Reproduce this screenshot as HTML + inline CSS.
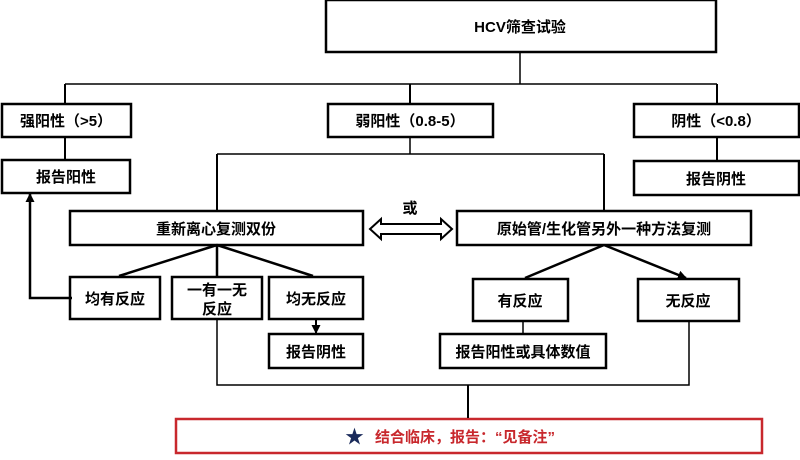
<!DOCTYPE html>
<html><head><meta charset="utf-8"><style>
body{margin:0;background:#fff;width:800px;height:455px;overflow:hidden;font-family:"Liberation Sans","Noto Sans CJK SC",sans-serif;}
</style></head><body>
<svg width="800" height="455" xmlns="http://www.w3.org/2000/svg" font-family="Liberation Sans, Noto Sans CJK SC, sans-serif" font-size="15" font-weight="bold">
<defs><marker id="a" markerWidth="9" markerHeight="9" refX="8" refY="4.5" orient="auto" markerUnits="userSpaceOnUse"><path d="M0,0 L9,4.5 L0,9 z" fill="#000"/></marker></defs>
<g fill="none" stroke="#000" stroke-width="2.5">
<rect x="326" y="0" width="390" height="52"/>
<rect x="2" y="104" width="129" height="33"/>
<rect x="328" y="104" width="165" height="33"/>
<rect x="634" y="104" width="165" height="33"/>
<rect x="2" y="160" width="128" height="33"/>
<rect x="634" y="161" width="165" height="34"/>
<rect x="70" y="211" width="293" height="34"/>
<rect x="457" y="211" width="294" height="34"/>
<rect x="70" y="277" width="90" height="42"/>
<rect x="172" y="277" width="90" height="42"/>
<rect x="269" y="277" width="94" height="42"/>
<rect x="269" y="334" width="94" height="34"/>
<rect x="473" y="279" width="95" height="42"/>
<rect x="638" y="279" width="101" height="42"/>
<rect x="440" y="334" width="166" height="34"/>
</g>
<rect x="176" y="419" width="586" height="34" fill="none" stroke="#c8282d" stroke-width="2.5"/>
<g fill="none" stroke="#000" stroke-width="1.5">
<path d="M520,52 V84 M65,84 H717 M410,137 V154 M217,154 H604 M523,321 V334 M217,319 V385 H689 V321"/>
<path d="M65,84 V103 M410,84 V103 M717,84 V103 M65,137 V159 M717,137 V160 M217,154 V210 M604,154 V210 M468,385 V418 M316,319 V333" stroke-width="2" marker-end="url(#a)"/>
<path d="M72,298 H30 V194" stroke-width="2.5" marker-end="url(#a)"/>
<path d="M217,245 L119,276 M217,245 V276 M217,245 L313,276 M604,245 L525,278 M604,245 L686,278" stroke-width="2.5" marker-end="url(#a)"/>
<path d="M381,224 H441 V219 L452,229 L441,239 V234 H381 V239 L370,229 L381,219 Z" stroke-width="2"/>
</g>
<g text-anchor="middle" fill="#000">
<text x="520" y="32">HCV筛查试验</text>
<text x="66" y="126">强阳性（&gt;5）</text>
<text x="410" y="126">弱阳性（0.8-5）</text>
<text x="716" y="126">阴性（&lt;0.8）</text>
<text x="66" y="182">报告阳性</text>
<text x="716" y="184">报告阴性</text>
<text x="410" y="213">或</text>
<text x="216" y="234">重新离心复测双份</text>
<text x="604" y="234">原始管/生化管另外一种方法复测</text>
<text x="115" y="304">均有反应</text>
<text x="217" y="295">一有一无</text>
<text x="217" y="314">反应</text>
<text x="316" y="304">均无反应</text>
<text x="316" y="357">报告阴性</text>
<text x="520" y="306">有反应</text>
<text x="688" y="306">无反应</text>
<text x="523" y="357">报告阳性或具体数值</text>
</g>
<text x="345" y="443" fill="#1a2a5a" font-size="19" font-weight="normal">★</text>
<text x="375" y="442" fill="#c8282d">结合临床，报告：“见备注”</text>
</svg>
</body></html>
